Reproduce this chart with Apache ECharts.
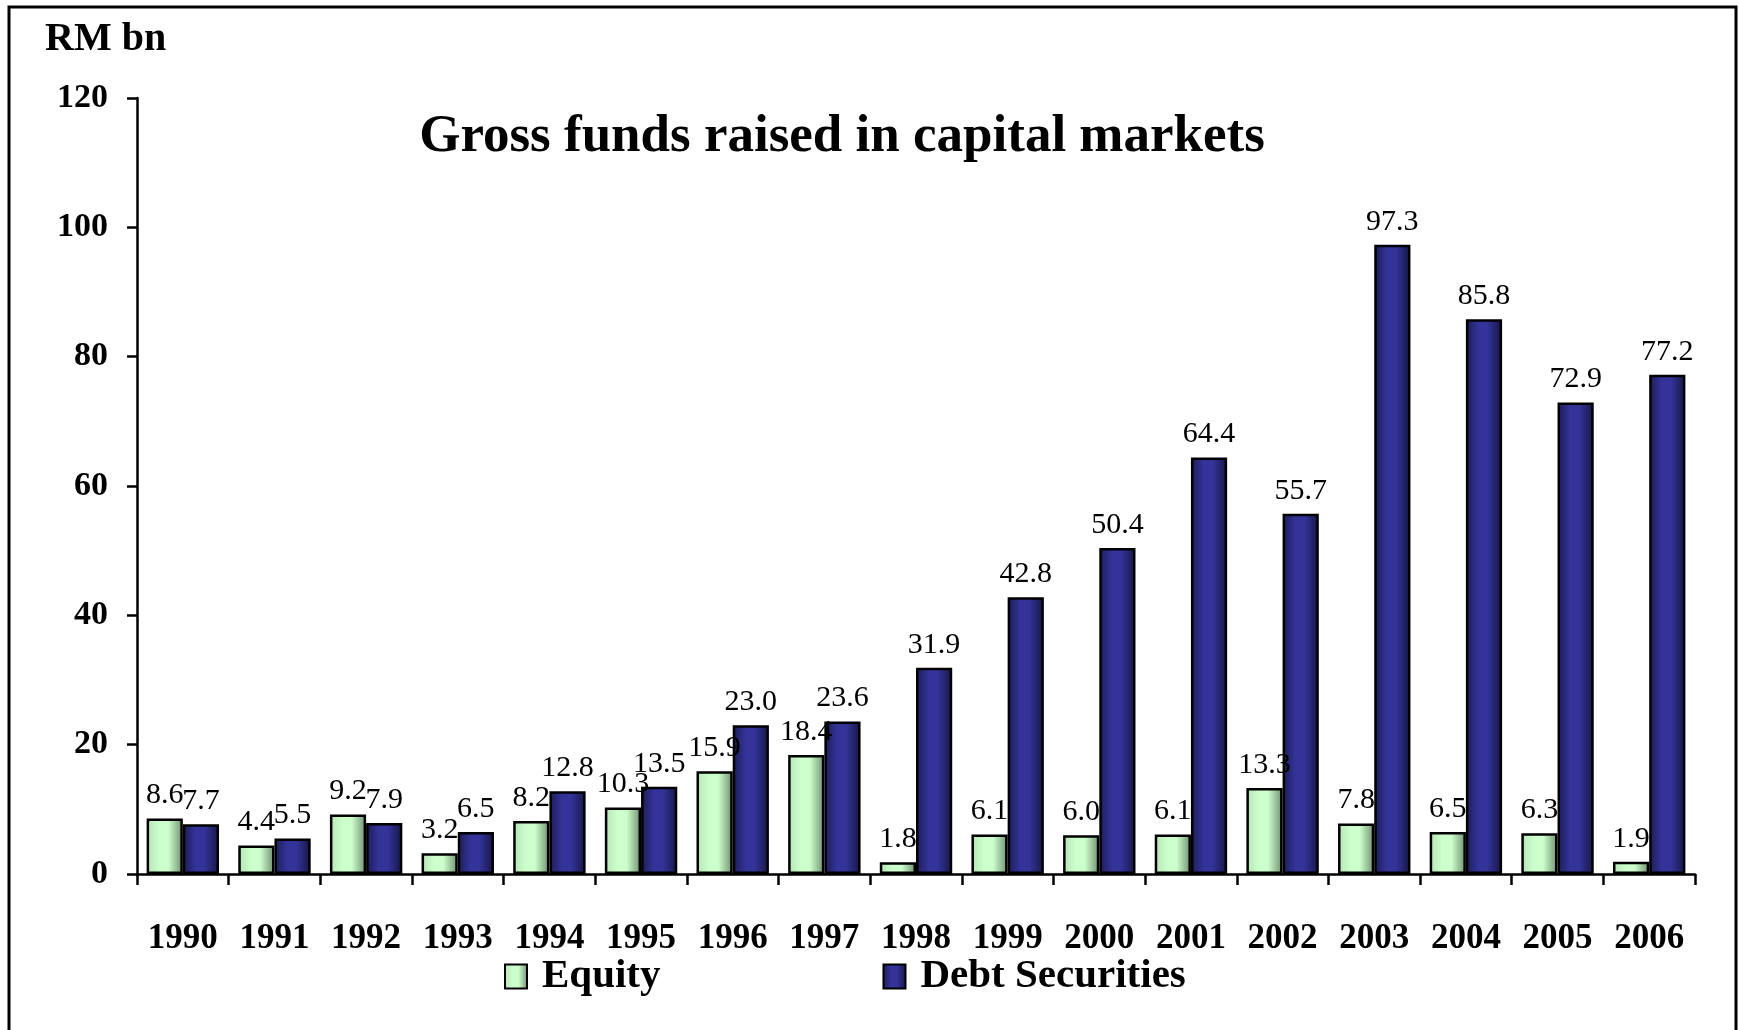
<!DOCTYPE html>
<html>
<head>
<meta charset="utf-8">
<script src="https://cdn.jsdelivr.net/npm/echarts@6/dist/echarts.min.js"></script>
<style>
    html, body { margin: 0; padding: 0; background: #fff; }
    #main { width: 1739px; height: 1030px; }
</style>
</head>
<body>
<div id="main"></div>
<script>
const years = ['1990','1991','1992','1993','1994','1995','1996','1997','1998','1999','2000','2001','2002','2003','2004','2005','2006'];
const equity = [8.6, 4.4, 9.2, 3.2, 8.2, 10.3, 15.9, 18.4, 1.8, 6.1, 6.0, 6.1, 13.3, 7.8, 6.5, 6.3, 1.9];
const debt = [7.7, 5.5, 7.9, 6.5, 12.8, 13.5, 23.0, 23.6, 31.9, 42.8, 50.4, 64.4, 55.7, 97.3, 85.8, 72.9, 77.2];
const yTicks = { min: 0, max: 120, interval: 20 };

const serif = "'Liberation Serif', 'Times New Roman', serif";

const chart = echarts.init(document.getElementById('main'));

// horizontal shading like the old excel bars
function shade(edge, mid, dark) {
    return new echarts.graphic.LinearGradient(0, 0, 1, 0, [
        { offset: 0, color: edge },
        { offset: 0.35, color: mid },
        { offset: 0.6, color: mid },
        { offset: 1, color: dark }
    ]);
}

const labelStyle = {
    show: true,
    position: 'top',
    distance: 8,
    fontFamily: serif,
    fontSize: 30,
    color: '#000',
    formatter: p => p.value.toFixed(1)
};

const option = {
    animation: false,
    backgroundColor: '#fff',
    graphic: [
        {
            type: 'rect',
            shape: { x: 9, y: 7, width: 1727, height: 1030 },
            style: { fill: null, stroke: '#000', lineWidth: 3 },
            silent: true
        },
        {
            type: 'text',
            x: 842, y: 137,
            style: {
                text: 'Gross funds raised in capital markets',
                font: "bold 53px 'Liberation Serif', 'Times New Roman', serif",
                fill: '#000',
                textAlign: 'center',
                textVerticalAlign: 'middle'
            }
        },
        {
            type: 'text',
            x: 45, y: 40,
            style: {
                text: 'RM bn',
                font: "bold 40px 'Liberation Serif', 'Times New Roman', serif",
                fill: '#000',
                textAlign: 'left',
                textVerticalAlign: 'middle'
            }
        }
    ],
    legend: {
        data: ['Equity', 'Debt Securities'],
        left: 499,
        top: 951,
        itemWidth: 22,
        itemHeight: 24,
        itemGap: 222,
        icon: 'rect',
        textStyle: {
            fontFamily: serif,
            fontWeight: 'bold',
            fontSize: 41,
            color: '#000',
            padding: [0, 0, 0, 10]
        }
    },
    grid: {
        left: 137,
        right: 44,
        top: 98,
        bottom: 156,
        containLabel: false
    },
    xAxis: {
        type: 'category',
        data: years,
        axisLine: { lineStyle: { color: '#000', width: 2.5 } },
        axisTick: { show: true, length: 11, lineStyle: { color: '#000', width: 2.5 } },
        axisLabel: {
            margin: 47,
            fontFamily: serif,
            fontWeight: 'bold',
            fontSize: 35,
            color: '#000',
            interval: 0
        },
        splitLine: { show: false }
    },
    yAxis: {
        type: 'value',
        min: yTicks.min,
        max: yTicks.max,
        interval: yTicks.interval,
        axisLine: { show: true, lineStyle: { color: '#000', width: 2.5 } },
        axisTick: { show: true, length: 10, lineStyle: { color: '#000', width: 2.5 } },
        axisLabel: {
            margin: 29,
            fontFamily: serif,
            fontWeight: 'bold',
            fontSize: 34,
            color: '#000'
        },
        splitLine: { show: false }
    },
    series: [
        {
            name: 'Equity',
            type: 'bar',
            data: equity,
            barGap: '0%',
            barCategoryGap: '21%',
            itemStyle: {
                color: shade('#b6e3b6', '#ccffcc', '#6f8c6f'),
                borderColor: '#000',
                borderWidth: 2.5
            },
            label: labelStyle
        },
        {
            name: 'Debt Securities',
            type: 'bar',
            data: debt,
            itemStyle: {
                color: shade('#1c1c55', '#333399', '#161644'),
                borderColor: '#000',
                borderWidth: 2.5
            },
            label: labelStyle
        }
    ]
};

chart.setOption(option);
</script>
</body>
</html>
